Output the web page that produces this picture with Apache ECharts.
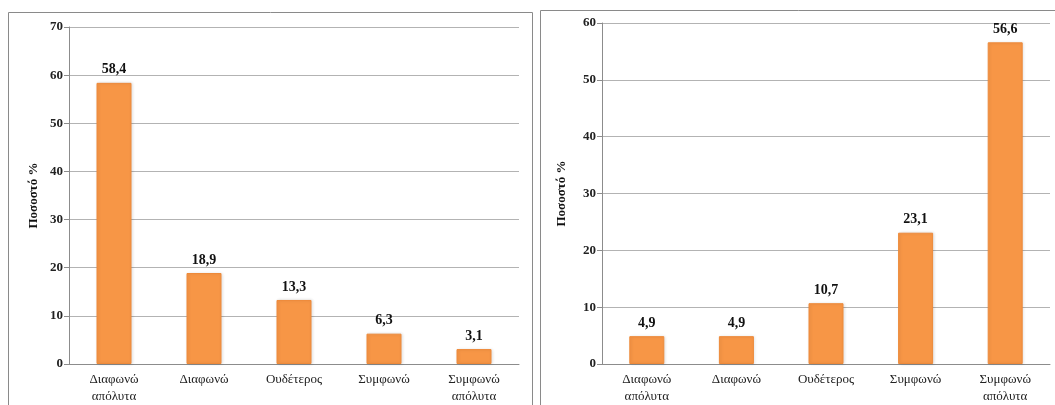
<!DOCTYPE html>
<html>
<head>
<meta charset="utf-8">
<script src="https://cdn.jsdelivr.net/npm/echarts@6/dist/echarts.min.js"></script>
<style>
  html, body { margin: 0; padding: 0; background: #ffffff; }
  #chart { width: 1055px; height: 405px; }
</style>
</head>
<body>
<div id="chart"></div>
<script>
// Response categories (shared by both panels)
const categories = ['Διαφωνώ\nαπόλυτα', 'Διαφωνώ', 'Ουδέτερος', 'Συμφωνώ', 'Συμφωνώ\nαπόλυτα'];
// Percentages per panel
const leftValues = [58.4, 18.9, 13.3, 6.3, 3.1];
const rightValues = [4.9, 4.9, 10.7, 23.1, 56.6];
// Axis settings
const leftMax = 70;
const rightMax = 60;
const yStep = 10;
const yTitle = 'Ποσοστό %';

const serif = '"Liberation Serif", "DejaVu Serif", serif';
const barColor = '#F79646';
const fmt = p => String(p.value.toFixed(1)).replace('.', ',');

function yAxis(idx, max, gap) {
  return {
    gridIndex: idx, type: 'value', min: 0, max: max, interval: yStep,
    name: yTitle, nameLocation: 'middle', nameGap: gap, nameRotate: 90,
    nameTextStyle: { fontFamily: serif, fontWeight: 'bold', fontSize: 13, color: '#111' },
    axisLine: { show: true, lineStyle: { color: '#8c8c8c', width: 1 } },
    axisTick: { show: true, length: 5, lineStyle: { color: '#8c8c8c' } },
    axisLabel: { fontFamily: serif, fontWeight: 'bold', fontSize: 13, color: '#222', margin: 6 },
    splitLine: { show: true, lineStyle: { color: '#b3b3b3', width: 1 } }
  };
}
function xAxis(idx) {
  return {
    gridIndex: idx, type: 'category', data: categories,
    axisLine: { lineStyle: { color: '#8c8c8c', width: 1 } },
    axisTick: { show: false },
    axisLabel: { fontFamily: serif, fontSize: 13, color: '#222', lineHeight: 17, margin: 7, interval: 0 }
  };
}
function bars(idx, values) {
  return {
    type: 'bar', xAxisIndex: idx, yAxisIndex: idx, data: values, barWidth: 35,
    itemStyle: { color: barColor, borderColor: '#EE8A3A', borderWidth: 1,
      shadowColor: 'rgba(0,0,0,0.12)', shadowBlur: 3, shadowOffsetX: 1, shadowOffsetY: 0 },
    label: { show: true, position: 'top', distance: 6, formatter: fmt,
      fontFamily: serif, fontWeight: 'bold', fontSize: 14, color: '#111' },
    silent: true
  };
}

const chart = echarts.init(document.getElementById('chart'), null, { renderer: 'canvas' });
chart.setOption({
  animation: false,
  backgroundColor: '#ffffff',
  graphic: [
    { type: 'rect', shape: { x: 8.5, y: 12.5, width: 524, height: 400 }, style: { fill: 'none', stroke: '#8a8a8a', lineWidth: 1 }, z: -1 },
    { type: 'rect', shape: { x: 540.5, y: 10.5, width: 520, height: 400 }, style: { fill: 'none', stroke: '#8a8a8a', lineWidth: 1 }, z: -1 }
  ],
  grid: [
    { left: 69, right: 536, top: 27, bottom: 41 },
    { left: 602, right: 5, top: 23, bottom: 41 }
  ],
  xAxis: [xAxis(0), xAxis(1)],
  yAxis: [yAxis(0, leftMax, 29), yAxis(1, rightMax, 34)],
  series: [bars(0, leftValues), bars(1, rightValues)]
});
</script>
</body>
</html>
